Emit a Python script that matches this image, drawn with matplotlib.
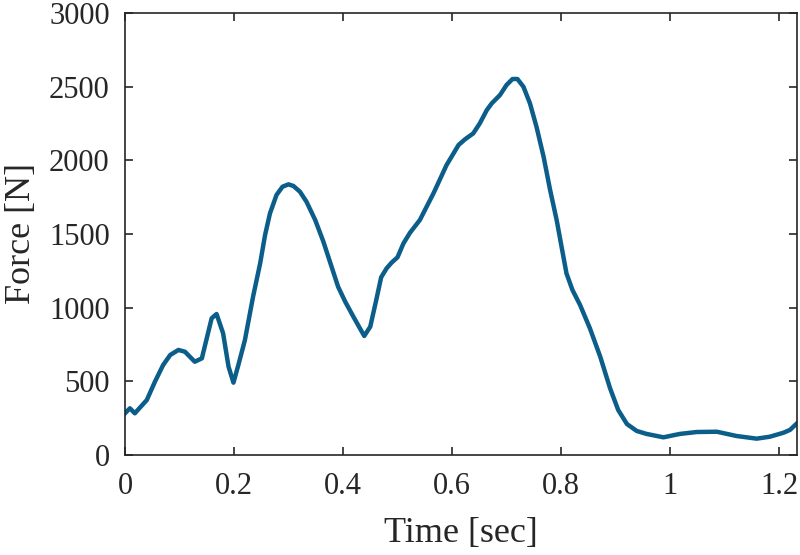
import matplotlib
matplotlib.use("Agg")
import matplotlib.pyplot as plt

time_s = [0.000, 0.009, 0.018, 0.040, 0.055, 0.070, 0.083, 0.098, 0.110, 0.128, 0.141,
          0.159, 0.168, 0.180, 0.190, 0.199, 0.208, 0.220, 0.235, 0.248, 0.257, 0.266,
          0.278, 0.289, 0.300, 0.309, 0.321, 0.333, 0.349, 0.364, 0.379, 0.391, 0.404,
          0.419, 0.431, 0.439, 0.450, 0.461, 0.470, 0.480, 0.489, 0.500, 0.511, 0.523,
          0.541, 0.566, 0.590, 0.612, 0.624, 0.639, 0.651, 0.664, 0.673, 0.688, 0.700,
          0.711, 0.720, 0.731, 0.743, 0.755, 0.768, 0.780, 0.792, 0.801, 0.810, 0.821,
          0.835, 0.853, 0.872, 0.890, 0.905, 0.921, 0.939, 0.957, 0.988, 1.018, 1.049,
          1.086, 1.122, 1.159, 1.183, 1.208, 1.220, 1.233]
force_n = [283, 317, 283, 373, 498, 611, 679, 713, 701, 633, 656,
           928, 957, 826, 599, 491, 611, 780, 1075, 1301, 1493, 1640,
           1765, 1821, 1837, 1826, 1787, 1719, 1595, 1448, 1278, 1142, 1041,
           939, 860, 808, 871, 1052, 1206, 1267, 1305, 1342, 1437, 1509,
           1595, 1776, 1968, 2104, 2143, 2183, 2251, 2342, 2387, 2443, 2511,
           2552, 2552, 2500, 2387, 2228, 2025, 1799, 1595, 1414, 1233, 1120,
           1018, 860, 667, 453, 305, 210, 163, 143, 120, 143, 156,
           158, 129, 111, 124, 151, 170, 215]

x_ticks = [0, 0.2, 0.4, 0.6, 0.8, 1.0, 1.2]
x_tick_labels = ["0", "0.2", "0.4", "0.6", "0.8", "1", "1.2"]
y_ticks = [0, 500, 1000, 1500, 2000, 2500, 3000]

plt.rcParams['font.family'] = ['Liberation Serif', 'DejaVu Serif']

fig = plt.figure(figsize=(8, 5.55), dpi=100)
ax = fig.add_axes([125/800, 1 - 455/555, (797-125)/800, (455-13)/555])
ax.plot(time_s, force_n, color='#0b5d8a', linewidth=3.2, solid_joinstyle='round')
ax.set_xlim(0, 1.233)
ax.set_ylim(0, 3000)
ax.set_xticks(x_ticks)
ax.set_xticklabels(x_tick_labels)
ax.set_yticks(y_ticks)
ax.tick_params(direction='in', length=6, width=1.2, top=True, right=True,
               labelsize=22, colors='#262626')
ax.tick_params(axis='x', pad=12)
ax.tick_params(axis='y', pad=11)
for s in ax.spines.values():
    s.set_color('#262626')
    s.set_linewidth(1.2)
ax.set_xlabel('Time [sec]', fontsize=26, color='#262626', labelpad=12)
ax.set_ylabel('Force [N]', fontsize=26, color='#262626', labelpad=8)
fig.savefig('out.png', dpi=100)
